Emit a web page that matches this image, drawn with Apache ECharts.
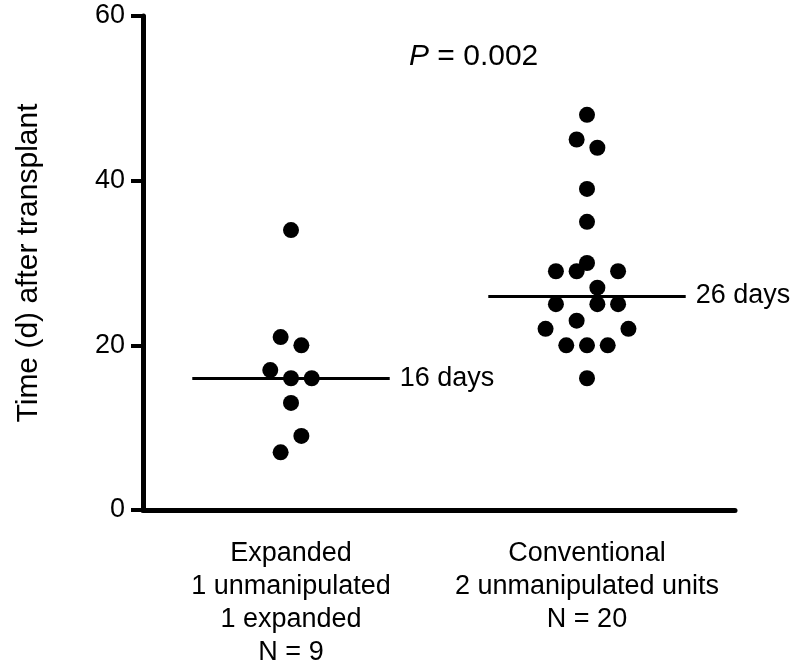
<!DOCTYPE html>
<html>
<head>
<meta charset="utf-8">
<script src="https://cdn.jsdelivr.net/npm/echarts@6/dist/echarts.min.js"></script>
<style>html,body{margin:0;padding:0;background:#fff;}#c{width:807px;height:672px;}</style>
</head>
<body>
<div id="c"></div>
<script>
const categories = ['Expanded\n1 unmanipulated\n1 expanded\nN = 9', 'Conventional\n2 unmanipulated units\nN = 20'];
const groupPositions = [1, 3];
const expandedValues = [34, 21, 20, 17, 16, 16, 13, 9, 7];
const expandedColumns = [0, -1, 1, -2, 0, 2, 0, 1, -1];
const conventionalValues = [48, 45, 44, 39, 35, 30, 29, 29, 29, 27, 25, 25, 25, 23, 22, 22, 20, 20, 20, 16];
const conventionalColumns = [0, -1, 1, 0, 0, 0, -3, -1, 3, 1, -3, 1, 3, -1, -4, 4, -2, 0, 2, 0];
const medians = [16, 26];
const medianLabels = ['16 days', '26 days'];
const yTicks = [0, 20, 40, 60];
const yTitle = 'Time (d) after transplant';
const pItalic = 'P';
const pRest = ' = 0.002';

const FONT = '"Liberation Sans", Arial, Helvetica, sans-serif';
const COL = 0.07;     // width of one jitter column in x-axis units
const HALF = 0.667;   // half-length of median line in x-axis units

function pts(values, cols, g) {
  return values.map((v, i) => [groupPositions[g] + cols[i] * COL, v]);
}
function medianLine(g) {
  return {
    silent: true, symbol: ['none', 'none'], animation: false,
    lineStyle: { color: '#000', width: 3, type: 'solid', opacity: 1 },
    label: { show: true, position: 'end', distance: 10, formatter: medianLabels[g],
             color: '#000', fontSize: 27, fontFamily: FONT },
    data: [[{ coord: [groupPositions[g] - HALF, medians[g]] }, { coord: [groupPositions[g] + HALF, medians[g]] }]]
  };
}

const chart = echarts.init(document.getElementById('c'));
chart.setOption({
  animation: false,
  backgroundColor: '#fff',
  title: {
    text: '{i|' + pItalic + '}{n|' + pRest + '}',
    left: 409, top: 41, padding: 0,
    textStyle: { fontWeight: 'normal', rich: {
      i: { fontStyle: 'italic', fontWeight: 'normal', fontSize: 30, fontFamily: FONT, color: '#000', lineHeight: 32 },
      n: { fontWeight: 'normal', fontSize: 30, fontFamily: FONT, color: '#000', lineHeight: 32 }
    } }
  },
  grid: { left: 143, right: 72, top: 16, bottom: 162, containLabel: false },
  xAxis: [
    {
      type: 'category', data: categories, boundaryGap: true,
      axisLine: { lineStyle: { color: '#000', width: 5 } },
      axisTick: { alignWithLabel: true, length: 10, lineStyle: { color: '#000', width: 4 } },
      axisLabel: { color: '#000', fontSize: 27, fontFamily: FONT, lineHeight: 33, margin: 27, interval: 0 },
      splitLine: { show: false }
    },
    { type: 'value', min: 0, max: 4, show: false }
  ],
  yAxis: {
    type: 'value', min: yTicks[0], max: yTicks[yTicks.length - 1], interval: 20,
    name: yTitle, nameLocation: 'middle', nameGap: 99,
    nameTextStyle: { color: '#000', fontSize: 30, fontFamily: FONT, lineHeight: 30 },
    axisLine: { show: true, lineStyle: { color: '#000', width: 5 } },
    axisTick: { show: true, length: 12, lineStyle: { color: '#000', width: 4 } },
    axisLabel: { color: '#000', fontSize: 27, fontFamily: FONT, margin: 18 },
    splitLine: { show: false }
  },
  series: [
    { type: 'scatter', xAxisIndex: 1, symbol: 'circle', symbolSize: 16,
      itemStyle: { color: '#000', opacity: 1 }, data: pts(expandedValues, expandedColumns, 0),
      markLine: medianLine(0) },
    { type: 'scatter', xAxisIndex: 1, symbol: 'circle', symbolSize: 16,
      itemStyle: { color: '#000', opacity: 1 }, data: pts(conventionalValues, conventionalColumns, 1),
      markLine: medianLine(1) }
  ]
});
</script>
</body>
</html>
